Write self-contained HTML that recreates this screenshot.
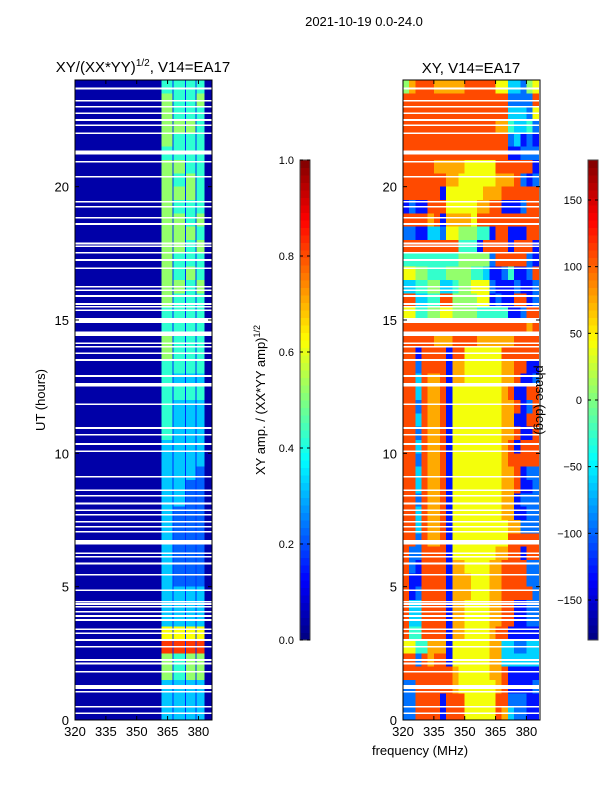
<!DOCTYPE html>
<html><head><meta charset="utf-8"><style>
body{margin:0;background:#fff;}
svg{display:block;font-family:"Liberation Sans",sans-serif;}
text{fill:#000;}
</style></head><body>
<svg id="fig" width="600" height="800" viewBox="0 0 600 800" xmlns="http://www.w3.org/2000/svg">
<text x="364" y="26" font-size="13" text-anchor="middle">2021-10-19 0.0-24.0</text>
<text x="143" y="72" font-size="15" text-anchor="middle">XY/(XX*YY)<tspan font-size="10" dy="-6">1/2</tspan><tspan dy="6">, V14=EA17</tspan></text>
<text x="471" y="73" font-size="15" text-anchor="middle">XY, V14=EA17</text>
<g id="ampPanel"></g>
<g id="phPanel"></g>
<g id="axes"></g>
<g id="cbars"></g>
<text transform="translate(45,400) rotate(-90)" font-size="13" text-anchor="middle">UT (hours)</text>
<text x="420" y="755" font-size="13" text-anchor="middle">frequency (MHz)</text>
<text transform="translate(265,400) rotate(-90)" font-size="13" text-anchor="middle">XY amp. / (XX*YY amp)<tspan font-size="9" dy="-5">1/2</tspan></text>
<text transform="translate(536,400) rotate(90)" font-size="13" text-anchor="middle">phase (deg)</text>
</svg>
<script>
// amplitude: per half-hour row (top = 23.5-24h), 4 band values 0-9 -> d/10+0.02
const ampRows=["4444","5445","5444","5554","5444","4444","5544","5454","5554","5444","5545","5554","5545","5444","5454","5545","5444","4444","4444","5444","5444","4444","4333","4444","4333","4333","4333","3333","3333","3332","3322","3322","3222","3222","3222","3222","3222","3222","3333","3333","3333","6666","8888","5455","5455","3333","3333","3333"];
const ampBands=[[362,367.5],[368,373.5],[374,378.5],[379,383]];
const ampBackground=0.04;
const ampGap=0.17;
// phase: per half-hour row, 22 channels of 3 MHz, digit d -> -180+(d+0.5)*34
const phaseRows=["5788877777888886633256","8888888888888888822228","8888888888888888833326","8888888888888887743342","8888888888888888823121","8888888888888888811222","8888877777666668888881","8888888776666667778212","8888881666666777888888","1211888666667788111288","8888781777768888888888","2211332665554418811188","8888888884441888818881","4444444445555528888821","6655444555544311241128","3344553345566621112112","8833448855556612118812","6644556655554444411288","8888888888888888888878","8888877788887777778888","8818888188666666888888","8828888177666666778811","8838778177666666778112","8838778166666666781188","8828778166666666778128","8838778166666666771188","8828778166666666778118","8838778166666666781888","8828778166666666788888","8838778166666666778122","8838778166666666778112","8828778166666666771222","8838778166666666771122","8838778166666666677222","8828778166666666688888","8228888166666667788188","8218888177666677888822","8118888177766677888822","8128888177766677888882","8338888177666677881122","8338888177666677881122","8448888177666678811111","6644777166666677332233","8828788166666677333333","8888888876666677811111","2288888876666667811112","2288881888666668822211","2288881888666668732211"];
const phaseChanStart=320, phaseChanWidth=3;
// flagged times (hours): thin lines and thick ranges
const flagLines=[23.68,23.22,23.0,22.75,22.5,22.3,22.0,20.93,20.37,19.43,19.25,18.84,18.6,17.87,17.77,17.52,17.25,16.94,16.25,16.12,15.9,15.6,15.5,15.37,14.13,14.0,13.75,13.5,12.9,11.84,10.95,10.69,10.35,10.08,9.12,8.62,8.41,8.12,7.87,7.69,7.44,7.25,7.06,6.25,6.12,5.87,5.44,4.87,4.44,4.35,4.25,4.06,3.9,3.75,3.4,3.25,3.0,2.75,2.25,2.12,1.81,1.06,0.5,0.25];
const flagRanges=[[21.2,21.36],[14.88,15.07],[14.4,14.56],[12.5,12.63],[6.59,6.75],[1.16,1.31]];
const xTicks=[320,335,350,365,380];
const yTicks=[0,5,10,15,20];
const ampCbTicks=[0.0,0.2,0.4,0.6,0.8,1.0];
const phCbTicks=[-150,-100,-50,0,50,100,150];

const NS="http://www.w3.org/2000/svg";
const F0=320,F1=386.6,T0=0,T1=24,TOP=80,BOT=720;
const panels=[{x0:75,x1:212},{x0:403,x1:540}];
function xs(p,f){return p.x0+(f-F0)/(F1-F0)*(p.x1-p.x0);}
function ys(t){return BOT-(t-T0)/(T1-T0)*(BOT-TOP);}
function cl(v){return Math.max(0,Math.min(1,v));}
function jet(v){const r=cl(1.5-Math.abs(4*v-3)),g=cl(1.5-Math.abs(4*v-2)),b=cl(1.5-Math.abs(4*v-1));return `rgb(${Math.round(r*255)},${Math.round(g*255)},${Math.round(b*255)})`;}
function mk(tag,attrs,parent){const e=document.createElementNS(NS,tag);for(const k in attrs)e.setAttribute(k,attrs[k]);parent.appendChild(e);return e;}
function rect(parent,x,y,w,h,fill){return mk('rect',{x:x,y:y,width:w,height:h,fill:fill,'shape-rendering':'crispEdges'},parent);}

const ampG=document.getElementById('ampPanel');
const phG=document.getElementById('phPanel');
const P0=panels[0],P1=panels[1];
let bg=rect(ampG,P0.x0,TOP,P0.x1-P0.x0,BOT-TOP,jet(ampBackground));


let gp=rect(ampG,xs(P0,ampBands[0][0]),TOP,xs(P0,ampBands[3][1])-xs(P0,ampBands[0][0]),BOT-TOP,jet(ampGap));


ampRows.forEach((row,i)=>{
  const tTop=T1-0.5*i,tBot=tTop-0.5;
  for(let b=0;b<ampBands.length;b++){
    const v=parseInt(row[b])/10+0.02;
    const xa=xs(P0,ampBands[b][0]),xb=xs(P0,ampBands[b][1]);
    const r=rect(ampG,xa,ys(tTop),xb-xa,ys(tBot)-ys(tTop),jet(v));
    
    
  }
});
phaseRows.forEach((row,i)=>{
  const tTop=T1-0.5*i,tBot=tTop-0.5;
  for(let k=0;k<row.length;k++){
    const ph=-180+(parseInt(row[k])+0.5)*34;
    const f=phaseChanStart+k*phaseChanWidth;
    const xa=xs(P1,f),xb=Math.min(P1.x1,xs(P1,f+phaseChanWidth));
    const r=rect(phG,xa,ys(tTop),xb-xa+0.3,ys(tBot)-ys(tTop)+0.3,jet((ph+180)/360));
    
    
  }
});
[ampG,phG].forEach((g,pi)=>{
  const p=panels[pi];
  flagLines.forEach(t=>{
    const r=rect(g,p.x0,ys(t)-0.8,p.x1-p.x0,1.6,'#fff');
    
    
  });
  flagRanges.forEach(fr=>{
    const r=rect(g,p.x0,ys(fr[1]),p.x1-p.x0,ys(fr[0])-ys(fr[1]),'#fff');
    
    
  });
});
const ax=document.getElementById('axes');
panels.forEach((p,pi)=>{
  const fr=mk('rect',{x:p.x0,y:TOP,width:p.x1-p.x0,height:BOT-TOP,fill:'none',stroke:'#000','stroke-width':1},ax);
  
  
  xTicks.forEach(v=>{
    const x=xs(p,v);
    mk('line',{x1:x,x2:x,y1:BOT,y2:BOT-4,stroke:'#000'},ax);
    mk('line',{x1:x,x2:x,y1:TOP,y2:TOP+4,stroke:'#000'},ax);
    const t=mk('text',{x:x,y:BOT+16,'font-size':13,'text-anchor':'middle'},ax);
    t.textContent=v;
    
    
  });
  yTicks.forEach(v=>{
    const y=ys(v);
    mk('line',{x1:p.x0,x2:p.x0+4,y1:y,y2:y,stroke:'#000'},ax);
    mk('line',{x1:p.x1,x2:p.x1-4,y1:y,y2:y,stroke:'#000'},ax);
    const t=mk('text',{x:p.x0-6,y:y+5,'font-size':13,'text-anchor':'end'},ax);
    t.textContent=v;
    
    
  });
});
const cb=document.getElementById('cbars');
const cbs=[{x:300,ticks:ampCbTicks,min:0,max:1,fmt:v=>v.toFixed(1),name:'amp-colorbar'},{x:588,ticks:phCbTicks,min:-180,max:180,fmt:v=>v<0?'\u2212'+(-v):''+v,name:'phase-colorbar'}];
const CBT=160,CBB=640,CBW=10,NSTEP=64;
cbs.forEach(c=>{
  for(let i=0;i<NSTEP;i++){
    const v=(i+0.5)/NSTEP;
    const y=CBB-(i+1)*(CBB-CBT)/NSTEP;
    rect(cb,c.x,y,CBW,(CBB-CBT)/NSTEP+0.4,jet(v));
  }
  const fr=mk('rect',{x:c.x,y:CBT,width:CBW,height:CBB-CBT,fill:'none',stroke:'#444','stroke-width':1},cb);
  
  
  c.ticks.forEach(v=>{
    const y=CBB-(v-c.min)/(c.max-c.min)*(CBB-CBT);
    mk('line',{x1:c.x,x2:c.x+3,y1:y,y2:y,stroke:'#000'},cb);
    mk('line',{x1:c.x+CBW,x2:c.x+CBW-3,y1:y,y2:y,stroke:'#000'},cb);
    const t=mk('text',{x:c.x-6,y:y+4,'font-size':11,'text-anchor':'end'},cb);
    t.textContent=c.fmt(v);
    
    
  });
});
</script>
</body></html>
